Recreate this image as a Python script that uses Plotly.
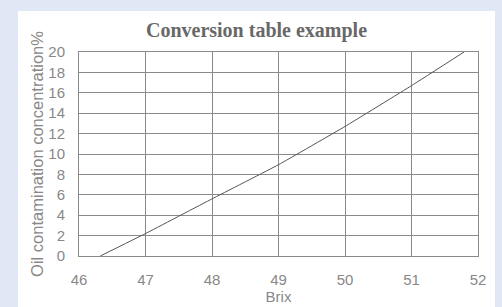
import plotly.graph_objects as go

brix = [46.32, 47.0, 48.0, 49.0, 50.0, 51.0, 51.79]
oil_pct = [0.0, 2.2, 5.6, 8.95, 12.7, 16.7, 20.0]
x_ticks = [46, 47, 48, 49, 50, 51, 52]
y_ticks = [0, 2, 4, 6, 8, 10, 12, 14, 16, 18, 20]

W, H = 502, 307
L, R, T, B = 79, 24, 52, 51
pw, ph = W - L - R, H - T - B

fig = go.Figure()
fig.add_trace(go.Scatter(x=brix, y=oil_pct, mode="lines",
                         line=dict(color="#555555", width=1, shape="spline", smoothing=0.3),
                         showlegend=False, hoverinfo="skip"))

# white panel
fig.add_shape(type="rect", xref="paper", yref="paper",
              x0=(18 - L) / pw, x1=(495 - L) / pw,
              y0=-(H + 5 - (T + ph)) / ph, y1=(T + ph - 11) / ph,
              fillcolor="white", line=dict(width=0), layer="below")

fig.update_layout(
    width=W, height=H,
    margin=dict(l=L, r=R, t=T, b=B, autoexpand=False),
    paper_bgcolor="#dfe8f4",
    plot_bgcolor="white",
    title=dict(text="Conversion table example", x=256.5 / W, xanchor="center",
               y=1 - 30 / H, yanchor="middle", automargin=False,
               font=dict(family="Liberation Serif", size=20, color="#686868", weight="bold")),
    font=dict(family="Liberation Sans", color="#888888", size=15),
)
fig.update_xaxes(range=[46, 52], tickvals=x_ticks, showgrid=True, gridcolor="#8a8a8a",
                 gridwidth=1, showline=True, linecolor="#8a8a8a", mirror=True,
                 zeroline=False, ticks="", ticklabelstandoff=10, automargin=False,
                 title=dict(text="Brix", standoff=2, font=dict(size=15, color="#888888")),
                 tickfont=dict(size=15, color="#888888"))
fig.update_yaxes(range=[0, 20], tickvals=y_ticks, showgrid=True, gridcolor="#8a8a8a",
                 gridwidth=1, showline=True, linecolor="#8a8a8a", mirror=True,
                 zeroline=False, ticks="", ticklabelstandoff=10, automargin=False,
                 title=dict(text="Oil contamination concentration%", standoff=0,
                            font=dict(size=16.5, color="#888888")),
                 tickfont=dict(size=15, color="#888888"))

fig.write_html("out.html", config={"displayModeBar": False},
               post_script="document.body.style.margin='0px';")
